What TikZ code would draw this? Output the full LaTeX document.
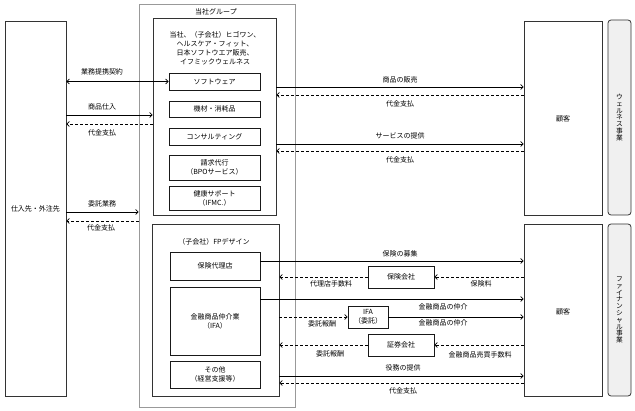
\documentclass[tikz,border=0pt]{standalone}
\usepackage{fontspec}
\setmainfont{Noto Sans CJK JP}
\usetikzlibrary{arrows.meta}
\begin{document}
\begin{tikzpicture}[x=1pt,y=-1pt,
  txt/.style={font=\fontsize{7}{9}\selectfont, text=black, inner sep=0pt, align=center},
  bigbox/.style={draw=black!80, line width=0.8pt, inner sep=0pt, anchor=center},
  grpbox/.style={draw=black!40, line width=0.7pt, inner sep=0pt},
  subbox/.style={draw=black!90, line width=0.8pt, inner sep=0pt, align=center, font=\fontsize{7}{9}\selectfont, text=black},
  sidebox/.style={draw=black!80, line width=0.8pt, fill=black!6, rounded corners=3pt, inner sep=0pt, align=center, font=\fontsize{6.7}{6.8}\selectfont, text=black},
  arr/.style={line width=0.7pt, -{Straight Barb[length=2.5pt,width=5pt]}},
  darr/.style={arr, dash pattern=on 3pt off 2pt},
  larr/.style={line width=0.7pt, {Straight Barb[length=2.5pt,width=5pt]}-{Straight Barb[length=2.5pt,width=5pt]}}
]
\useasboundingbox (0,0) rectangle (635,411);

% main frames
\node[grpbox, minimum width=156, minimum height=403] (G) at (217,205.5) {};
\node[txt] (Gl) at (216,12) {当社グループ};
\node[bigbox, minimum width=61, minimum height=375] (L) at (35.5,208.5) {};
\node[txt] (Ll) at (35.5,208.5) {仕入先・外注先};
\node[bigbox, minimum width=123, minimum height=197] (B1) at (214.5,116.5) {};
\node[bigbox, minimum width=127, minimum height=172] (B2) at (215.5,310) {};
\node[bigbox, minimum width=78, minimum height=194] (C1) at (563,118) {};
\node[txt] (C1l) at (563,119) {顧客};
\node[bigbox, minimum width=78, minimum height=172] (C2) at (563,310) {};
\node[txt] (C2l) at (563,312) {顧客};
\node[sidebox, minimum width=23, minimum height=195] (S1) at (619.5,117.5) {ウ\\ェ\\ル\\ネ\\ス\\事\\業};
\node[sidebox, minimum width=23, minimum height=172] (S2) at (619.5,310) {フ\\ァ\\イ\\ナ\\ン\\シ\\ャ\\ル\\事\\業};

% group 1 content
\node[txt] (B1l) at (215,48.5) {当社、（子会社）ヒゴワン、\\ヘルスケア・フィット、\\日本ソフトウエア販売、\\イフミックウェルネス};
\node[subbox, minimum width=91, minimum height=17] (sw) at (214.5,81.5) {ソフトウェア};
\node[subbox, minimum width=91, minimum height=16] (kz) at (214.5,109) {機材・消耗品};
\node[subbox, minimum width=91, minimum height=17] (cs) at (214.5,136.5) {コンサルティング};
\node[subbox, minimum width=91, minimum height=25] (bpo) at (214.5,167.5) {請求代行\\（BPOサービス）};
\node[subbox, minimum width=91, minimum height=24] (hs) at (214.5,198) {健康サポート\\（IFMC.）};

% group 2 content
\node[txt] (B2l) at (214,242) {（子会社）FPデザイン};
\node[subbox, minimum width=90, minimum height=28] (hd) at (215,266) {保険代理店};
\node[subbox, minimum width=90, minimum height=68] (ifa) at (215,321) {金融商品仲介業\\（IFA）};
\node[subbox, minimum width=90, minimum height=27] (ot) at (215,374.5) {その他\\（経営支援等）};
\node[subbox, minimum width=66, minimum height=22] (HK) at (401,277) {保険会社};
\node[subbox, minimum width=40, minimum height=22] (IF) at (368,317) {IFA\\（委託）};
\node[subbox, minimum width=66, minimum height=22] (SK) at (401,345) {証券会社};

% left arrows
\draw[larr] (L.east |- sw.west) -- (sw.west);
\node[txt] at (102,72) {業務提携契約};
\draw[arr] (L.east |- 0,115) -- (B1.west |- 0,115);
\node[txt] at (102,107) {商品仕入};
\draw[darr] (B1.west |- 0,124) -- (L.east |- 0,124);
\node[txt] at (102,133) {代金支払};
\draw[arr] (L.east |- 0,212) -- (G.west |- 0,212);
\node[txt] at (102,204) {委託業務};
\draw[darr] (G.west |- 0,221) -- (L.east |- 0,221);
\node[txt] at (101,228) {代金支払};

% right top arrows
\draw[arr] (B1.east |- 0,87) -- (C1.west |- 0,87);
\node[txt] at (400,80) {商品の販売};
\draw[darr] (C1.west |- 0,95) -- (B1.east |- 0,95);
\node[txt] at (400,104) {代金支払};
\draw[arr] (B1.east |- 0,144) -- (C1.west |- 0,144);
\node[txt] at (400,136) {サービスの提供};
\draw[darr] (C1.west |- 0,151) -- (B1.east |- 0,151);
\node[txt] at (400,160) {代金支払};

% right bottom arrows
\draw[arr] (hd.east |- 0,261) -- (C2.west |- 0,261);
\node[txt] at (400,254) {保険の募集};
\draw[darr] (C2.west |- HK.east) -- (HK.east);
\node[txt] at (481,284) {保険料};
\draw[darr] (HK.west) -- (B2.east |- HK.west);
\node[txt] at (331,284) {代理店手数料};
\draw[arr] (ifa.east |- 0,299) -- (C2.west |- 0,299);
\node[txt] at (443,307) {金融商品の仲介};
\draw[arr] (IF.east) -- (C2.west |- IF.east);
\node[txt] at (443,323) {金融商品の仲介};
\draw[darr] (B2.east |- IF.west) -- (IF.west);
\node[txt] at (322,324) {委託報酬};
\draw[darr] (C2.west |- SK.east) -- (SK.east);
\node[txt] at (480,355) {金融商品売買手数料};
\draw[darr] (SK.west) -- (B2.east |- SK.west);
\node[txt] at (330,354) {委託報酬};
\draw[arr] (B2.east |- 0,376) -- (C2.west |- 0,376);
\node[txt] at (403,368) {役務の提供};
\draw[darr] (C2.west |- 0,383) -- (B2.east |- 0,383);
\node[txt] at (403,391) {代金支払};
\end{tikzpicture}
\end{document}
